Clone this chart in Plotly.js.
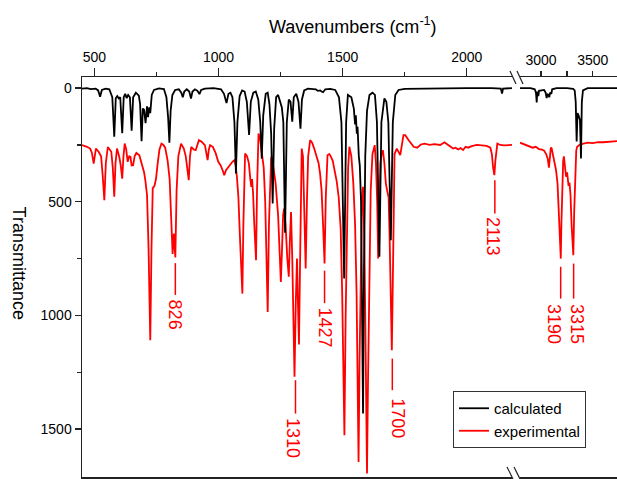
<!DOCTYPE html>
<html>
<head>
<meta charset="utf-8">
<script src="https://cdn.plot.ly/plotly-3.0.1.min.js"></script>
<style>html,body{margin:0;padding:0;background:#fff;}#chart{width:617px;height:479px;}</style>
</head>
<body>
<div id="chart"></div>
<script>
// ---- Calculated spectrum (black) ----
const calcLeftWn = [450,470,485,495,505,515,523,530,545,560,572,580,586,592,598,604,612,618,624,630,636,643,650,656,667,679,684,690,695,700,706,712,716,721,725,731,740,760,780,790,797,802,807,814,825,840,850,856,862,872,882,889,895,905,915,923,930,945,980,1010,1022,1032,1040,1048,1056,1064,1070,1076,1085,1095,1105,1114,1123,1130,1140,1150,1160,1168,1174,1180,1190,1198,1205,1212,1218,1224,1232,1240,1248,1255,1261,1268,1275,1283,1290,1297,1303,1313,1322,1330,1336,1345,1360,1392,1400,1410,1415,1421,1430,1450,1470,1485,1495,1506,1514,1521,1535,1545,1550,1553,1557,1560,1565,1569,1574,1578,1582,1586,1591,1598,1608,1620,1630,1638,1648,1656,1668,1676,1684,1694,1702,1712,1725,1750,1800,1900,2000,2100,2137,2142,2146,2182];
const calcLeftT  = [2,0,4,3,2,10,38,8,2,5,40,214,45,35,45,40,198,40,25,44,30,40,187,40,20,33,70,234,90,95,154,80,128,85,110,30,8,1,4,40,130,240,100,30,8,5,20,40,15,5,15,46,15,5,12,26,8,2,0,5,25,66,25,20,40,150,375,150,35,10,15,60,206,60,20,15,50,150,310,120,25,20,70,200,507,180,40,30,60,85,150,636,150,50,60,148,40,25,60,178,50,10,2,5,12,10,15,18,5,3,8,40,150,838,150,30,40,90,160,120,200,170,300,340,500,900,1432,800,300,100,30,20,30,150,742,150,45,60,150,669,150,30,8,3,2,0,0,0,2,24,2,0];
const calcRightWn = [2798,2900,2940,2952,2959,2965,2970,2975,2981,3030,3045,3055,3062,3070,3080,3088,3100,3108,3150,3250,3310,3325,3335,3344,3352,3362,3376,3386,3394,3405,3450,3600,3733];
const calcRightT  = [0,0,5,20,63,15,20,35,12,8,20,44,25,30,40,20,25,5,0,0,3,10,60,235,110,120,140,310,60,10,0,0,0];

// ---- Experimental spectrum (red) ----
const expLeftWn = [450,462,470,483,490,497,501,506,517,527,533,540,546,554,568,574,580,585,591,600,606,612,617,622,628,634,640,645,650,656,662,669,681,692,700,705,712,718,725,730,735,742,748,755,762,770,778,785,795,803,810,815,820,826,831,838,849,860,868,874,880,885,890,900,908,921,932,945,951,956,961,966,977,988,999,1008,1016,1023,1030,1040,1050,1056,1064,1069,1074,1080,1086,1092,1096,1100,1104,1107,1115,1122,1128,1132,1135,1139,1144,1151,1155,1158,1161,1168,1175,1182,1188,1193,1198,1203,1208,1212,1220,1230,1240,1246,1251,1256,1260,1264,1270,1277,1283,1287,1292,1297,1302,1306,1311,1316,1320,1324,1328,1332,1335,1340,1345,1351,1356,1361,1369,1377,1385,1395,1403,1409,1415,1421,1427,1432,1436,1439,1446,1452,1460,1468,1476,1484,1492,1498,1503,1507,1512,1517,1522,1527,1535,1543,1550,1556,1560,1564,1568,1573,1578,1582,1587,1591,1595,1598,1602,1607,1613,1620,1629,1634,1639,1643,1647,1652,1657,1662,1668,1674,1680,1685,1689,1694,1698,1702,1706,1709,1718,1726,1732,1740,1745,1752,1759,1766,1786,1800,1815,1830,1850,1870,1893,1910,1925,1935,1945,1955,1965,1975,1985,1995,2005,2020,2040,2060,2080,2095,2101,2106,2111,2115,2119,2123,2135,2150,2182];
const expLeftT  = [251,255,258,266,285,332,290,266,280,300,380,493,330,259,280,350,478,330,266,302,340,398,300,244,270,324,300,302,340,339,300,285,295,339,370,405,470,700,1109,700,440,430,400,330,270,244,250,262,320,400,560,730,640,745,450,300,244,266,300,350,405,300,259,270,273,229,236,251,280,317,270,251,258,285,324,339,360,383,361,346,330,324,317,340,390,480,650,820,904,600,380,288,300,330,400,434,400,460,600,757,450,300,200,230,280,350,500,700,985,600,380,302,340,420,560,700,853,700,560,530,600,750,830,680,545,750,1000,1270,950,750,950,1128,800,450,266,300,500,794,500,300,229,240,265,300,330,376,450,600,772,480,330,295,290,300,320,360,410,480,620,900,1250,1527,1000,600,350,258,300,420,600,900,1250,1645,1200,700,480,434,650,1000,1400,1696,1300,800,450,290,251,330,500,750,500,330,290,273,330,420,455,480,650,950,1153,850,500,290,266,280,295,240,207,207,221,229,258,262,248,244,250,246,250,238,250,258,266,262,270,264,272,258,262,255,250,252,254,262,290,350,383,320,260,244,250,252,250];
const expRightWn = [2798,2830,2860,2890,2920,2950,2980,3010,3030,3050,3065,3077,3085,3095,3103,3115,3130,3145,3160,3170,3180,3186,3191,3197,3205,3214,3221,3230,3242,3252,3260,3266,3275,3285,3295,3304,3312,3320,3330,3340,3349,3370,3400,3450,3500,3550,3600,3650,3733];
const expRightT  = [240,245,250,255,262,258,268,270,275,290,310,350,300,262,265,290,320,360,420,520,680,730,750,600,420,320,300,340,390,370,400,430,415,470,600,715,735,550,350,275,258,250,245,240,242,238,238,235,233];

// ---- Peak annotations ----
const peakText = ['826','1310','1427','1700','2113','3190','3315'];
const peakWn   = [826,1310,1427,1700,2113,3190,3315];

// label layout (line top, line bottom, text centre in axis units; text pixel shift)
const labelLineTop = [770,1285,803,1190,405,786,772];
const labelLineBot = [910,1432,946,1329,552,926,926];
const labelTextY   = [998,1537,1051,1454,654,1036,1036];
const labelShiftPx = [0,-3,0,6,-2,-6,4];

const FONT = 'Arial, "Liberation Sans", sans-serif';
const BLACK = '#000000', RED = '#ff0000';

const traces = [
  {x: expLeftWn, y: expLeftT, xaxis:'x', yaxis:'y', mode:'lines', name:'experimental', legendrank:2,
   line:{color:RED, width:1.8}, showlegend:true},
  {x: expRightWn, y: expRightT, xaxis:'x2', yaxis:'y', mode:'lines', name:'experimental',
   line:{color:RED, width:1.8}, showlegend:false},
  {x: calcLeftWn, y: calcLeftT, xaxis:'x', yaxis:'y', mode:'lines', name:'calculated', legendrank:1,
   line:{color:BLACK, width:1.8}, showlegend:true},
  {x: calcRightWn, y: calcRightT, xaxis:'x2', yaxis:'y', mode:'lines', name:'calculated',
   line:{color:BLACK, width:1.8}, showlegend:false}
];

const shapes = [];
const annotations = [];
peakWn.forEach((w, i) => {
  const ax = w > 2500 ? 'x2' : 'x';
  shapes.push({type:'line', xref:ax, yref:'y', x0:w, x1:w, y0:labelLineTop[i], y1:labelLineBot[i],
    line:{color:RED, width:1.5}});
  annotations.push({xref:ax, yref:'y', x:w, y:labelTextY[i], text:peakText[i], textangle:90,
    xshift:labelShiftPx[i],
    showarrow:false, xanchor:'center', yanchor:'middle', font:{family:FONT, size:18, color:RED}});
});

// axis-break marks
const brk = (x0,y0,x1,y1) => ({type:'line', xref:'paper', yref:'paper', x0, y0, x1, y1, line:{color:'#222', width:1.2}});
shapes.push(brk(0.800,1.015,0.8112,0.9825), brk(0.8131,1.015,0.8243,0.9825));
shapes.push(brk(0.7944,0.025,0.8056,-0.005), brk(0.8075,0.025,0.8187,-0.005));

annotations.push({xref:'paper', yref:'paper', x:0.5065, y:1.13, text:'Wavenumbers (cm<sup>-1</sup>)',
  showarrow:false, xanchor:'center', yanchor:'middle', font:{family:FONT, size:18, color:'#000'}});
annotations.push({xref:'paper', yref:'paper', x:-0.117, y:0.535, text:'Transmittance', textangle:90,
  showarrow:false, xanchor:'center', yanchor:'middle', font:{family:FONT, size:18, color:'#000'}});

const axCommon = {showgrid:false, zeroline:false, showline:true, linecolor:'#222', linewidth:1.5,
  ticks:'outside', tickcolor:'#222', tickwidth:1.3, tickfont:{family:FONT, size:14, color:'#000'},
  side:'top', anchor:'y', mirror:true, fixedrange:true};

const layout = {
  width:617, height:479,
  margin:{l:82, r:0, t:77, b:2, pad:0},
  paper_bgcolor:'#fff', plot_bgcolor:'#fff',
  font:{family:FONT, color:'#000'},
  xaxis: Object.assign({}, axCommon, {domain:[0,0.8037], range:[450,2182], tick0:0, dtick:500, ticklen:8,
    minor:{dtick:250, ticklen:4, ticks:'outside', tickcolor:'#222', tickwidth:1.3, showgrid:false}}),
  xaxis2: Object.assign({}, axCommon, {domain:[0.8187,1], range:[2798,3733], tick0:0, dtick:500, ticklen:5,
    minor:{dtick:250, ticklen:5, ticks:'outside', tickcolor:'#222', tickwidth:1.3, showgrid:false}}),
  yaxis: {range:[1711,-49], tick0:0, dtick:500, showgrid:false, zeroline:false, showline:true,
    linecolor:'#222', linewidth:1.5, ticks:'outside', ticklen:6, tickcolor:'#222', tickwidth:1.3,
    tickfont:{family:FONT, size:14, color:'#000'}, anchor:'x', mirror:false, fixedrange:true,
    minor:{dtick:250, ticklen:4, ticks:'outside', tickcolor:'#222', tickwidth:1.3, showgrid:false}},
  legend:{x:0.6935, y:0.215, xanchor:'left', yanchor:'top', bgcolor:'#fff', bordercolor:'#333',
    borderwidth:1, font:{family:FONT, size:15, color:'#000'}, tracegroupgap:0},
  showlegend:true,
  shapes, annotations
};

Plotly.newPlot('chart', traces, layout, {displayModeBar:false, staticPlot:true});
</script>
</body>
</html>
